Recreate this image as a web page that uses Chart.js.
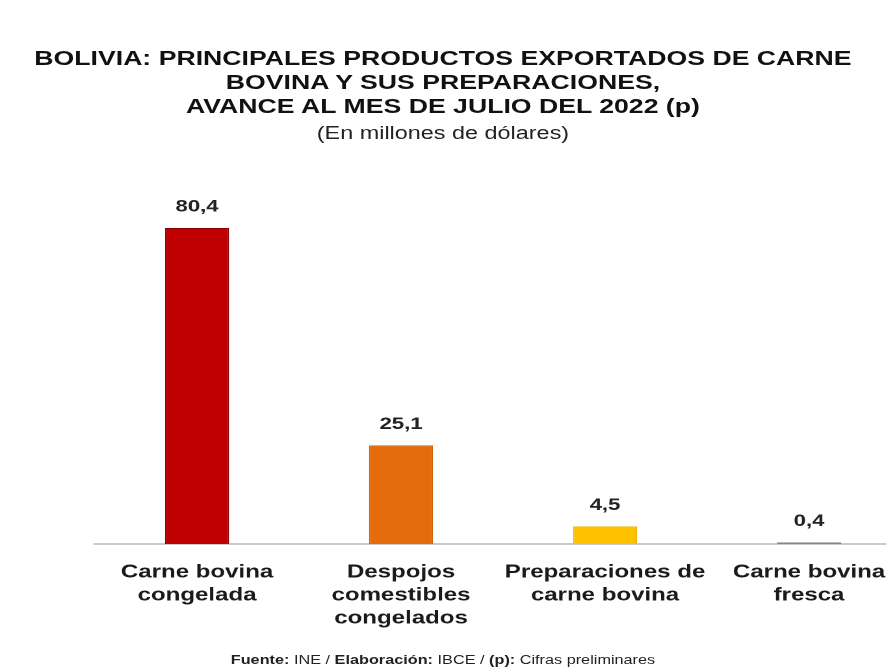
<!DOCTYPE html>
<html>
<head>
<meta charset="utf-8">
<script src="https://cdn.jsdelivr.net/npm/chart.js@4/dist/chart.umd.min.js"></script>
<style>
html,body{margin:0;padding:0;background:#fff;width:886px;height:672px;overflow:hidden;}
#stage{position:absolute;left:0;top:0;width:705px;height:672px;transform:scaleX(1.3);transform-origin:0 0;}
#chartBox{position:absolute;left:0;top:0;width:705px;height:672px;}
.txt{position:absolute;left:0;width:681.5px;text-align:center;font-family:"Liberation Sans",Arial,sans-serif;color:#111;white-space:nowrap;}
#title{top:46px;font-weight:bold;font-size:20.5px;line-height:24px;}
#subtitle{top:121px;font-size:18px;line-height:24px;color:#222;}
#footer{top:652px;font-size:12.5px;line-height:16px;color:#222;}
#footer b{font-weight:bold;}
</style>
</head>
<body>
<div id="stage">
  <div id="chartBox"><canvas id="c"></canvas></div>
  <div class="txt" id="title">BOLIVIA: PRINCIPALES PRODUCTOS EXPORTADOS DE CARNE<br>BOVINA Y SUS PREPARACIONES,<br>AVANCE AL MES DE JULIO DEL 2022 (p)</div>
  <div class="txt" id="subtitle">(En millones de dólares)</div>
  <div class="txt" id="footer"><b>Fuente:</b> INE / <b>Elaboración:</b> IBCE / <b>(p):</b> Cifras preliminares</div>
</div>
<script>
const categories = [
  ["Carne bovina", "congelada"],
  ["Despojos", "comestibles", "congelados"],
  ["Preparaciones de", "carne bovina"],
  ["Carne bovina", "fresca"]
];
const values = [80.4, 25.1, 4.5, 0.4];
const barColors = ["#C00000", "#E46C0A", "#FFC000", "#7F7F7F"];
const barBorders = ["#8B0000", "#C9600A", "#EBB000", "#7F7F7F"];

const valueLabels = {
  id: 'valueLabels',
  afterDatasetsDraw(chart) {
    const ctx = chart.ctx;
    const meta = chart.getDatasetMeta(0);
    ctx.save();
    ctx.font = 'bold 17px "Liberation Sans", Arial, sans-serif';
    ctx.fillStyle = '#222';
    ctx.textAlign = 'center';
    ctx.textBaseline = 'middle';
    meta.data.forEach((bar, i) => {
      ctx.fillText(values[i].toFixed(1).replace('.', ','), bar.x, bar.y - 21);
    });
    ctx.restore();
  }
};

new Chart(document.getElementById('c'), {
  type: 'bar',
  data: {
    labels: categories,
    datasets: [{
      data: values,
      backgroundColor: barColors,
      borderColor: barBorders,
      borderWidth: 1,
      categoryPercentage: 1,
      barPercentage: 0.314
    }]
  },
  options: {
    responsive: true,
    maintainAspectRatio: false,
    animation: false,
    devicePixelRatio: 2,
    layout: { padding: { left: 73.1, right: 4.2, top: 151, bottom: 25 } },
    plugins: { legend: { display: false }, tooltip: { enabled: false }, title: { display: false } },
    scales: {
      x: {
        grid: { display: false, drawTicks: false },
        border: { display: true, color: '#c9c9c9', width: 2 },
        ticks: {
          padding: 17, maxRotation: 0, minRotation: 0, autoSkip: false, color: '#1a1a1a',
          font: { family: '"Liberation Sans", Arial, sans-serif', size: 18.5, weight: 'bold', lineHeight: '23px' }
        }
      },
      y: { display: false, min: 0, max: 100 }
    }
  },
  plugins: [valueLabels]
});
</script>
</body>
</html>
